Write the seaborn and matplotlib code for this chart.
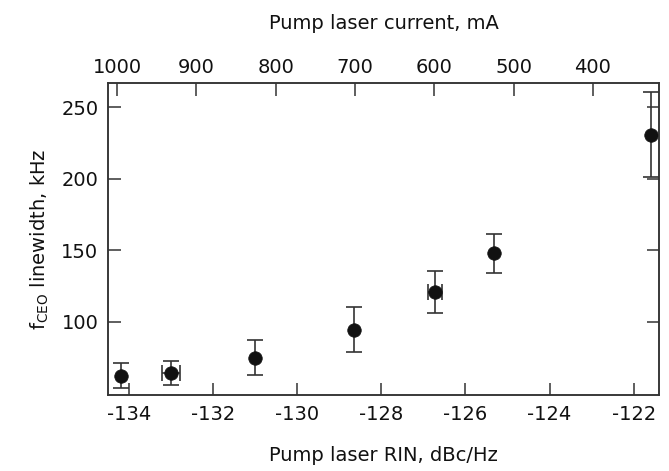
import numpy as np
import pandas as pd
import matplotlib
matplotlib.use("Agg")
import matplotlib.pyplot as plt
import seaborn as sns

# 데이터
rin = [-134.2, -133.0, -131.0, -128.66, -126.72, -125.32, -121.58]
linewidth = [62.5, 64.1, 75.0, 94.7, 120.8, 148.0, 231.0]
lw_err = [8.5, 8.4, 12.3, 16.0, 14.8, 13.6, 29.9]
rin_err = [0.0, 0.22, 0.0, 0.0, 0.17, 0.0, 0.0]

x_ticks = [-134, -132, -130, -128, -126, -124, -122]
y_ticks = [100, 150, 200, 250]
current_ticks = [1000, 900, 800, 700, 600, 500, 400]

df = pd.DataFrame({"rin": rin, "lw": linewidth, "err": lw_err, "xerr": rin_err})

sns.set_theme(style="ticks")
plt.rcParams["font.family"] = ["DejaVu Sans"]
plt.rcParams["axes.unicode_minus"] = False

fig = plt.figure(figsize=(6.69, 4.71), dpi=100)
ax = fig.add_axes([0.1614, 0.1614, 0.8236, 0.6624])

ecol = "#333333"
fs = 14
ax.errorbar(df["rin"], df["lw"], yerr=df["err"], fmt="none", ecolor=ecol,
            elinewidth=1.2, capsize=6, capthick=1.2, zorder=2)
hx = df[df["xerr"] > 0]
ax.errorbar(hx["rin"], hx["lw"], xerr=hx["xerr"], fmt="none", ecolor=ecol,
            elinewidth=1.2, capsize=6, capthick=1.2, zorder=2)
sns.scatterplot(data=df, x="rin", y="lw", ax=ax, color="#111111", s=95,
                marker="o", edgecolor="#111111", linewidth=0.5, zorder=3, legend=False)

ax.set_xlim(-134.5, -121.4)
ax.set_ylim(49, 267)
ax.set_xticks(x_ticks)
ax.set_yticks(y_ticks)

ax2 = ax.twiny()
ax2.set_xlim(1011.3, 316.8)
ax2.set_xticks(current_ticks)

for a in (ax, ax2):
    for s in a.spines.values():
        s.set_color(ecol)
        s.set_linewidth(1.1)
        s.set_visible(True)
    a.tick_params(direction="in", length=9, width=1.1, color=ecol,
                  labelsize=fs, labelcolor="#111111", pad=7)
ax.tick_params(right=True, which="both")
ax2.tick_params(pad=4)

ax.set_xlabel("Pump laser RIN, dBc/Hz", fontsize=fs, labelpad=16, color="#111111")
ax.set_ylabel(r"f$_{\mathregular{CEO}}$ linewidth, kHz", fontsize=fs, labelpad=7, color="#111111")
ax2.set_xlabel("Pump laser current, mA", fontsize=fs, labelpad=21, color="#111111")

fig.savefig("out.png", dpi=100)
